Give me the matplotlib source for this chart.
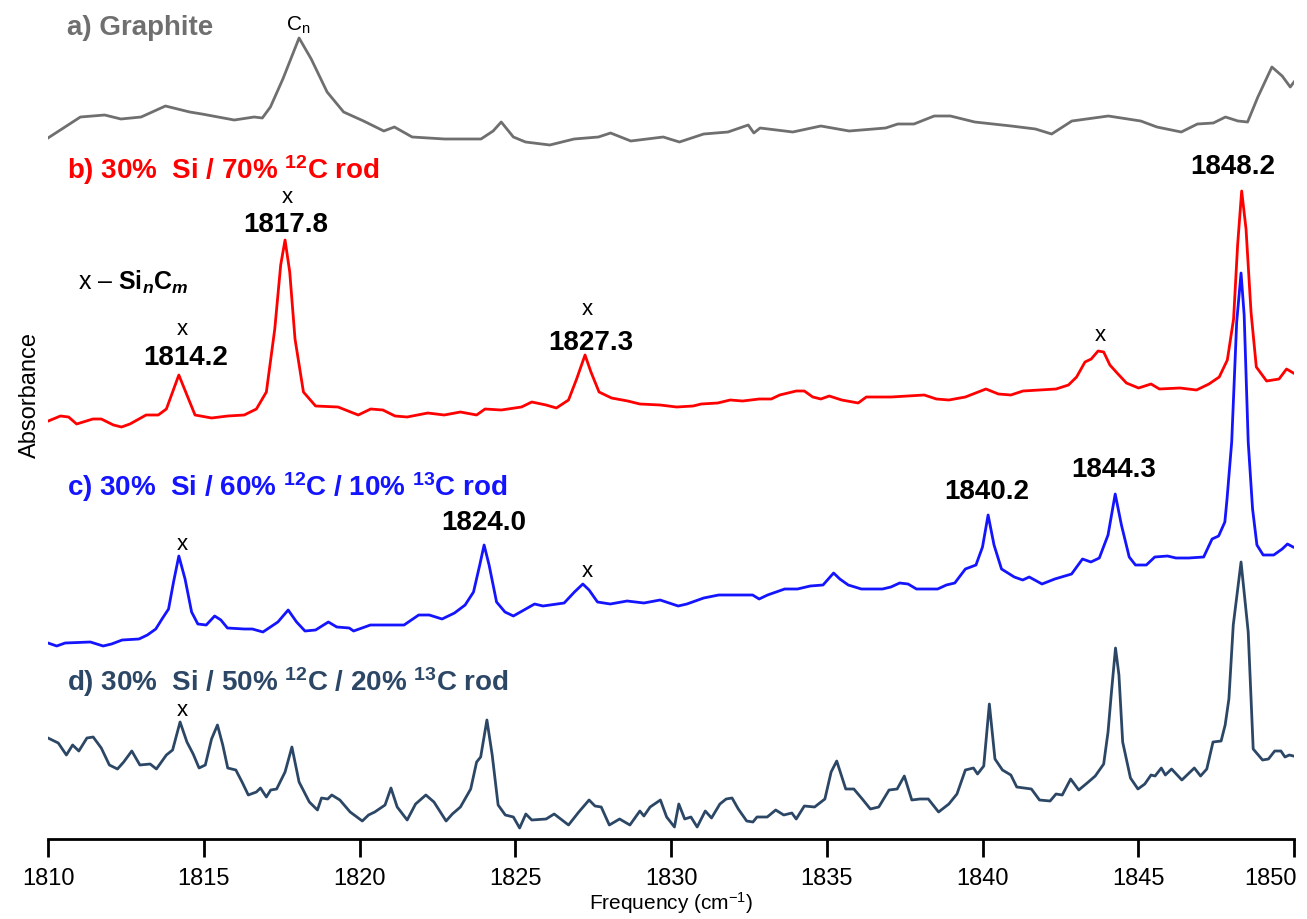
import numpy as np
import matplotlib as mpl
mpl.use('agg')
import matplotlib.pyplot as plt
import matplotlib.transforms as mtransforms

plt.rcParams['font.family'] = ['Liberation Sans', 'DejaVu Sans']
plt.rcParams['mathtext.fontset'] = 'custom'
plt.rcParams['mathtext.rm'] = 'Liberation Sans'
plt.rcParams['mathtext.it'] = 'Liberation Sans:italic'
plt.rcParams['mathtext.bf'] = 'Liberation Sans:bold'
plt.rcParams['mathtext.bfit'] = 'Liberation Sans:italic:bold'

# ---- data (frequency in cm-1, absorbance in arbitrary units) ----
freq_a = [1810.00, 1811.04, 1811.82, 1812.34, 1812.99, 1813.77, 1814.55, 1814.94, 1815.98, 1816.62,
          1816.88, 1817.14, 1817.54, 1818.06, 1818.45, 1818.96, 1819.49, 1820.13, 1820.78, 1821.12,
          1821.69, 1822.73, 1823.90, 1824.29, 1824.55, 1824.94, 1825.33, 1826.11, 1826.89, 1827.67,
          1828.06, 1828.71, 1829.75, 1830.27, 1831.05, 1831.83, 1832.48, 1832.66, 1832.86, 1833.91,
          1834.81, 1835.72, 1836.89, 1837.28, 1837.80, 1838.45, 1838.97, 1839.75, 1840.92, 1841.70,
          1842.22, 1842.87, 1844.04, 1845.08, 1845.60, 1846.38, 1846.90, 1847.41, 1847.80, 1848.20,
          1848.51, 1848.84, 1849.29, 1849.62, 1849.88, 1850.00]
abs_a = [0.07, 0.28, 0.30, 0.26, 0.28, 0.39, 0.33, 0.31, 0.25, 0.28,
         0.27, 0.38, 0.66, 1.07, 0.86, 0.53, 0.33, 0.24, 0.14, 0.18,
         0.08, 0.06, 0.06, 0.14, 0.23, 0.08, 0.03, 0.00, 0.06, 0.08,
         0.12, 0.04, 0.08, 0.03, 0.11, 0.13, 0.20, 0.12, 0.17, 0.13,
         0.19, 0.14, 0.17, 0.21, 0.21, 0.29, 0.29, 0.23, 0.19, 0.16,
         0.11, 0.24, 0.29, 0.24, 0.18, 0.13, 0.21, 0.22, 0.28, 0.24,
         0.23, 0.48, 0.78, 0.69, 0.58, 0.63]

freq_b = [1810.01, 1810.40, 1810.66, 1810.92, 1811.44, 1811.71, 1812.10, 1812.36, 1812.63, 1813.15,
          1813.54, 1813.80, 1814.20, 1814.46, 1814.72, 1815.25, 1815.77, 1816.30, 1816.69, 1817.01,
          1817.28, 1817.47, 1817.61, 1817.76, 1817.93, 1818.20, 1818.59, 1819.31, 1819.96, 1820.36,
          1820.75, 1821.14, 1821.53, 1822.19, 1822.72, 1823.24, 1823.76, 1824.03, 1824.55, 1825.20,
          1825.53, 1825.99, 1826.32, 1826.71, 1826.97, 1827.24, 1827.43, 1827.69, 1828.09, 1828.61,
          1829.00, 1829.65, 1830.18, 1830.71, 1830.97, 1831.50, 1831.90, 1832.30, 1832.83, 1833.22,
          1833.49, 1834.02, 1834.28, 1834.55, 1834.81, 1835.08, 1835.48, 1836.01, 1836.27, 1836.67,
          1837.07, 1837.60, 1838.13, 1838.52, 1838.92, 1839.45, 1840.11, 1840.51, 1840.91, 1841.30,
          1841.83, 1842.36, 1842.76, 1843.02, 1843.29, 1843.49, 1843.71, 1843.89, 1844.09, 1844.35,
          1844.62, 1845.01, 1845.41, 1845.68, 1846.34, 1846.87, 1847.27, 1847.60, 1847.86, 1848.06,
          1848.19, 1848.32, 1848.46, 1848.62, 1848.79, 1849.12, 1849.52, 1849.76, 1849.98]
abs_b = [0.06, 0.11, 0.10, 0.03, 0.08, 0.08, 0.02, 0.00, 0.03, 0.12,
         0.12, 0.18, 0.52, 0.32, 0.12, 0.09, 0.11, 0.12, 0.18, 0.35,
         0.98, 1.62, 1.87, 1.55, 0.88, 0.35, 0.21, 0.20, 0.12, 0.18,
         0.17, 0.11, 0.10, 0.14, 0.12, 0.15, 0.12, 0.18, 0.17, 0.20,
         0.25, 0.22, 0.19, 0.27, 0.48, 0.72, 0.55, 0.35, 0.29, 0.26,
         0.23, 0.22, 0.20, 0.21, 0.23, 0.24, 0.27, 0.26, 0.28, 0.28,
         0.32, 0.36, 0.36, 0.30, 0.28, 0.31, 0.27, 0.24, 0.30, 0.30,
         0.30, 0.31, 0.32, 0.28, 0.27, 0.30, 0.38, 0.33, 0.32, 0.36,
         0.37, 0.38, 0.42, 0.50, 0.65, 0.68, 0.76, 0.75, 0.62, 0.53,
         0.44, 0.39, 0.43, 0.38, 0.39, 0.37, 0.43, 0.50, 0.67, 1.08,
         1.82, 2.36, 1.98, 1.15, 0.60, 0.46, 0.48, 0.58, 0.54]

freq_c = [1810.00, 1810.28, 1810.55, 1811.36, 1811.77, 1812.04, 1812.38, 1812.92, 1813.19, 1813.46,
          1813.66, 1813.87, 1814.03, 1814.20, 1814.40, 1814.61, 1814.81, 1815.08, 1815.35, 1815.55,
          1815.76, 1816.30, 1816.56, 1816.90, 1817.38, 1817.71, 1817.98, 1818.25, 1818.59, 1819.00,
          1819.27, 1819.67, 1819.81, 1820.35, 1821.43, 1821.90, 1822.24, 1822.65, 1823.05, 1823.39,
          1823.66, 1823.86, 1824.00, 1824.16, 1824.40, 1824.67, 1824.94, 1825.28, 1825.62, 1825.89,
          1826.57, 1826.90, 1827.17, 1827.37, 1827.64, 1828.05, 1828.59, 1829.13, 1829.65, 1830.23,
          1830.51, 1831.05, 1831.53, 1832.62, 1832.83, 1833.10, 1833.65, 1834.06, 1834.47, 1834.88,
          1835.22, 1835.42, 1835.69, 1836.11, 1836.79, 1837.06, 1837.34, 1837.61, 1837.88, 1838.56,
          1838.84, 1839.11, 1839.45, 1839.79, 1840.00, 1840.18, 1840.37, 1840.61, 1841.02, 1841.29,
          1841.50, 1841.91, 1842.32, 1842.86, 1843.21, 1843.48, 1843.75, 1844.03, 1844.26, 1844.46,
          1844.71, 1844.91, 1845.26, 1845.53, 1845.94, 1846.21, 1846.62, 1847.10, 1847.37, 1847.58,
          1847.78, 1847.85, 1848.00, 1848.16, 1848.30, 1848.40, 1848.53, 1848.67, 1848.81, 1849.01,
          1849.35, 1849.62, 1849.79, 1849.97]
abs_c = [0.03, 0.00, 0.03, 0.04, 0.00, 0.02, 0.06, 0.07, 0.11, 0.17,
         0.27, 0.37, 0.64, 0.90, 0.67, 0.34, 0.22, 0.21, 0.30, 0.26,
         0.18, 0.17, 0.17, 0.14, 0.24, 0.36, 0.24, 0.15, 0.16, 0.24,
         0.19, 0.18, 0.15, 0.21, 0.21, 0.31, 0.31, 0.27, 0.33, 0.41,
         0.54, 0.81, 1.01, 0.81, 0.44, 0.34, 0.30, 0.36, 0.42, 0.40,
         0.43, 0.54, 0.62, 0.56, 0.44, 0.42, 0.45, 0.43, 0.46, 0.40,
         0.42, 0.48, 0.51, 0.51, 0.47, 0.51, 0.57, 0.57, 0.60, 0.61,
         0.73, 0.67, 0.61, 0.57, 0.57, 0.59, 0.63, 0.62, 0.57, 0.57,
         0.61, 0.63, 0.77, 0.81, 0.99, 1.31, 1.01, 0.77, 0.69, 0.66,
         0.69, 0.62, 0.67, 0.72, 0.87, 0.84, 0.88, 1.11, 1.52, 1.21,
         0.89, 0.81, 0.81, 0.89, 0.90, 0.88, 0.88, 0.89, 1.07, 1.10,
         1.24, 1.47, 2.04, 3.24, 3.73, 3.31, 2.04, 1.37, 1.01, 0.91,
         0.91, 0.97, 1.02, 0.99]

freq_d = [1810.00, 1810.33, 1810.59, 1810.79, 1810.99, 1811.25, 1811.45, 1811.71, 1811.97, 1812.23,
          1812.43, 1812.69, 1812.95, 1813.28, 1813.48, 1813.80, 1814.00, 1814.24, 1814.46, 1814.66,
          1814.85, 1815.05, 1815.25, 1815.44, 1815.61, 1815.77, 1816.03, 1816.23, 1816.43, 1816.69,
          1816.82, 1817.01, 1817.15, 1817.34, 1817.61, 1817.83, 1818.06, 1818.39, 1818.65, 1818.78,
          1818.98, 1819.11, 1819.37, 1819.70, 1820.09, 1820.29, 1820.49, 1820.82, 1821.01, 1821.21,
          1821.53, 1821.80, 1822.13, 1822.39, 1822.78, 1822.98, 1823.24, 1823.57, 1823.76, 1823.89,
          1824.09, 1824.26, 1824.45, 1824.68, 1824.94, 1825.14, 1825.34, 1825.53, 1825.99, 1826.25,
          1826.71, 1827.04, 1827.37, 1827.56, 1827.76, 1828.02, 1828.35, 1828.68, 1829.00, 1829.13,
          1829.33, 1829.66, 1829.86, 1830.11, 1830.25, 1830.44, 1830.64, 1830.84, 1831.10, 1831.30,
          1831.57, 1831.77, 1831.96, 1832.16, 1832.43, 1832.63, 1832.76, 1833.09, 1833.36, 1833.62,
          1833.88, 1834.02, 1834.28, 1834.61, 1834.94, 1835.14, 1835.32, 1835.61, 1835.87, 1836.14,
          1836.40, 1836.67, 1837.00, 1837.26, 1837.49, 1837.73, 1837.99, 1838.26, 1838.59, 1838.92,
          1839.18, 1839.45, 1839.71, 1839.84, 1840.04, 1840.22, 1840.40, 1840.64, 1840.91, 1841.10,
          1841.57, 1841.83, 1842.17, 1842.36, 1842.56, 1842.83, 1843.09, 1843.36, 1843.62, 1843.89,
          1844.03, 1844.14, 1844.27, 1844.38, 1844.50, 1844.75, 1844.99, 1845.21, 1845.41, 1845.54,
          1845.74, 1845.87, 1846.07, 1846.40, 1846.60, 1846.80, 1847.00, 1847.20, 1847.40, 1847.66,
          1847.79, 1847.91, 1848.05, 1848.30, 1848.53, 1848.69, 1848.99, 1849.18, 1849.38, 1849.58,
          1849.71, 1849.85, 1849.98]
abs_d = [0.90, 0.85, 0.73, 0.83, 0.77, 0.90, 0.91, 0.80, 0.63, 0.59,
         0.66, 0.77, 0.63, 0.64, 0.59, 0.73, 0.78, 1.06, 0.86, 0.74,
         0.60, 0.63, 0.89, 1.03, 0.83, 0.60, 0.58, 0.46, 0.33, 0.36,
         0.40, 0.31, 0.38, 0.39, 0.56, 0.81, 0.46, 0.26, 0.18, 0.30,
         0.29, 0.33, 0.28, 0.16, 0.07, 0.13, 0.16, 0.23, 0.40, 0.21,
         0.08, 0.24, 0.33, 0.26, 0.07, 0.14, 0.21, 0.39, 0.66, 0.71,
         1.08, 0.73, 0.23, 0.13, 0.11, 0.00, 0.14, 0.08, 0.09, 0.14,
         0.03, 0.16, 0.28, 0.22, 0.21, 0.03, 0.09, 0.03, 0.17, 0.12,
         0.21, 0.28, 0.11, 0.01, 0.24, 0.09, 0.11, 0.01, 0.17, 0.10,
         0.24, 0.29, 0.30, 0.19, 0.07, 0.06, 0.11, 0.11, 0.18, 0.13,
         0.15, 0.09, 0.22, 0.21, 0.29, 0.56, 0.67, 0.39, 0.39, 0.29,
         0.19, 0.21, 0.38, 0.39, 0.52, 0.28, 0.29, 0.29, 0.16, 0.24,
         0.34, 0.58, 0.60, 0.54, 0.62, 1.24, 0.69, 0.58, 0.53, 0.41,
         0.39, 0.28, 0.27, 0.34, 0.33, 0.49, 0.38, 0.45, 0.52, 0.64,
         0.96, 1.36, 1.80, 1.53, 0.86, 0.50, 0.39, 0.44, 0.53, 0.52,
         0.60, 0.53, 0.59, 0.48, 0.54, 0.60, 0.52, 0.59, 0.86, 0.87,
         1.03, 1.29, 2.03, 2.66, 1.96, 0.79, 0.68, 0.69, 0.77, 0.77,
         0.71, 0.73, 0.72]

trace_names = [r'a) Graphite',
               r'b) 30%  Si / 70% $^{\mathbf{12}}$C rod',
               r'c) 30%  Si / 60% $^{\mathbf{12}}$C / 10% $^{\mathbf{13}}$C rod',
               r'd) 30%  Si / 50% $^{\mathbf{12}}$C / 20% $^{\mathbf{13}}$C rod']
trace_offsets = [6.99, 4.17, 1.98, 0.16]
trace_colors = ['#6f6f6f', '#ff0000', '#1414ff', '#2c4766']

# peak annotations: (text, freq, height, size, weight)
peak_labels = [
    ('1817.8', 1817.64, 6.20, 20, 'bold'),
    ('1814.2', 1814.43, 4.87, 20, 'bold'),
    ('1827.3', 1827.43, 5.02, 20, 'bold'),
    ('1848.2', 1848.04, 6.78, 20, 'bold'),
    ('1824.0', 1824.00, 3.22, 20, 'bold'),
    ('1840.2', 1840.14, 3.53, 20, 'bold'),
    ('1844.3', 1844.22, 3.75, 20, 'bold'),
    ('x', 1817.67, 6.47, 16, 'normal'),
    ('x', 1814.30, 5.15, 16, 'normal'),
    ('x', 1827.30, 5.35, 16, 'normal'),
    ('x', 1843.77, 5.09, 16, 'normal'),
    ('x', 1814.30, 3.00, 16, 'normal'),
    ('x', 1827.30, 2.73, 16, 'normal'),
    ('x', 1814.30, 1.34, 16, 'normal'),
    (r'C$_\mathrm{n}$', 1818.02, 8.20, 15, 'normal'),
]
name_heights = [8.17, 6.75, 3.58, 1.63]

fig = plt.figure(figsize=(13.07, 9.2), dpi=100)
ax = fig.add_axes([48 / 1307, 80 / 920, 1246 / 1307, 840 / 920])

traces = [(freq_a, abs_a), (freq_b, abs_b), (freq_c, abs_c), (freq_d, abs_d)]
for (f, a), off, col in zip(traces, trace_offsets, trace_colors):
    ax.plot(f, np.array(a) + off, color=col, lw=2.0, solid_joinstyle='round')

for name, h, col in zip(trace_names, name_heights, trace_colors):
    ax.text(1810.61, h, name, color=col, fontsize=20, fontweight='bold', ha='left', va='center')

for txt, f, h, size, weight in peak_labels:
    ax.text(f, h, txt, color='black', fontsize=size, fontweight=weight, ha='center', va='center')

ax.text(1810.96, 5.63, r'x – $\mathbf{Si}_{\mathbfit{n}}\mathbf{C}_{\mathbfit{m}}$',
        fontsize=18, ha='left', va='center')

ax.set_xlim(1810, 1850)
ax.set_ylim(0.05, 8.45)
ax.set_xticks(np.arange(1810, 1851, 5))
ax.set_yticks([])
for s in ['left', 'right', 'top']:
    ax.spines[s].set_visible(False)
ax.spines['bottom'].set_linewidth(2.0)
ax.tick_params(axis='x', direction='out', length=13, width=2.0, labelsize=17, pad=7)

# last tick label pulled inside the figure, as in the original
fig.canvas.draw()
last = ax.get_xticklabels()[-1]
last.set_ha('right')
last.set_transform(last.get_transform() + mtransforms.ScaledTranslation(3 / 100, 0, fig.dpi_scale_trans))

ax.set_xlabel(r'Frequency (cm$^{-1}$)', fontsize=15)
ax.xaxis.set_label_coords(0.5, -0.060)
ax.set_ylabel('Absorbance', fontsize=17)
ax.yaxis.set_label_coords(-0.006, 0.53)

fig.savefig('out.png', dpi=100)
